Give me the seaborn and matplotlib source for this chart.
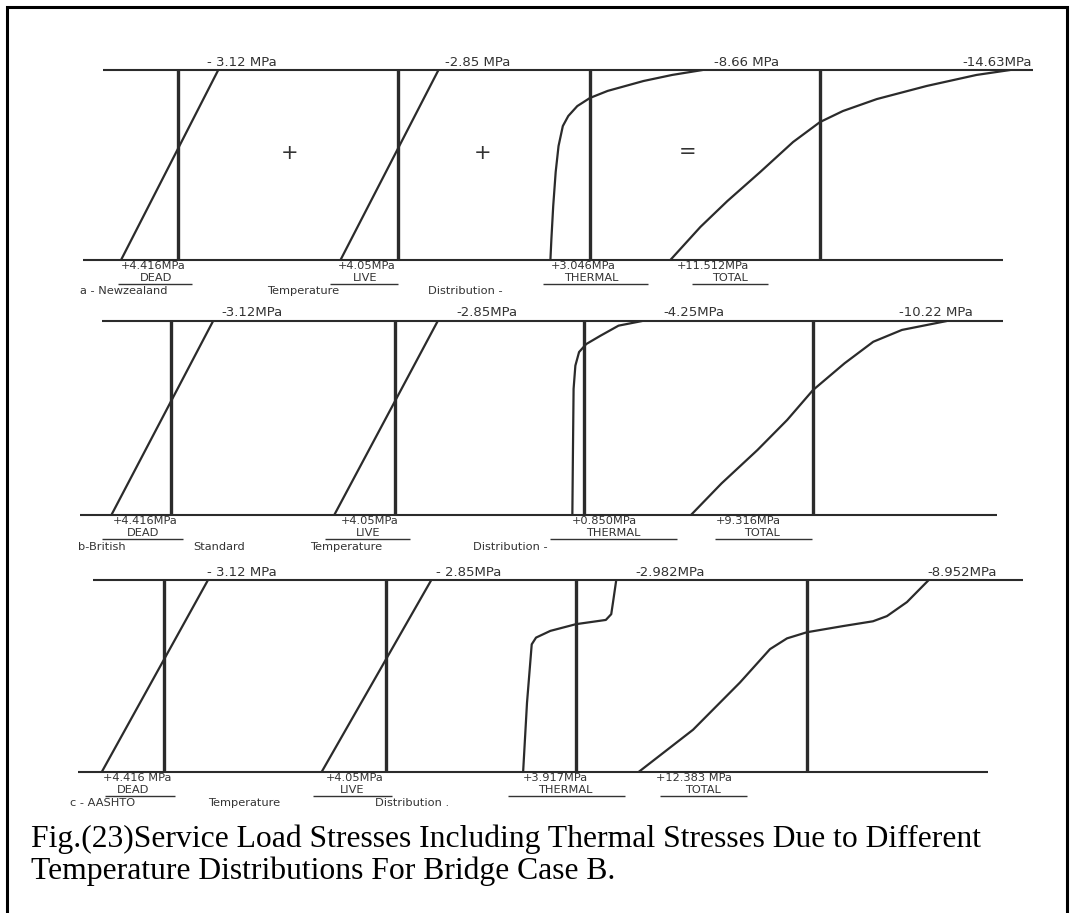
import matplotlib
matplotlib.use('Agg')
import matplotlib.pyplot as plt
import seaborn as sns

sns.set_theme(style='white')
plt.rcParams['font.family'] = ['DejaVu Sans']

W, H = 1071, 913
INK = '#2b2b2b'

# ---------------- data (stress in MPa, + = tension, depth 0 = top fibre, 1 = bottom) ----------------
components = ['DEAD', 'LIVE', 'THERMAL', 'TOTAL']

dead_depth = [1.0, 0.0]
dead_stress = [4.416, -3.12]
live_depth = [1.0, 0.0]
live_stress = [4.05, -2.85]

# a - Newzealand
nz_thermal_depth = [1.0, 0.89, 0.716, 0.537, 0.40, 0.295, 0.242, 0.19, 0.147, 0.11, 0.058, 0.026, 0.0]
nz_thermal_stress = [3.046, 2.97, 2.83, 2.64, 2.42, 2.09, 1.67, 0.98, 0.0, -1.36, -4.11, -6.32, -8.66]
nz_total_depth = [1.0, 0.826, 0.69, 0.537, 0.379, 0.274, 0.216, 0.153, 0.084, 0.026, 0.0]
nz_total_stress = [11.512, 9.20, 7.13, 4.60, 2.07, 0.0, -1.76, -4.37, -8.21, -12.04, -14.63]

# b - British Standard
bs_thermal_depth = [1.0, 0.695, 0.35, 0.23, 0.16, 0.119, 0.076, 0.024, 0.0]
bs_thermal_stress = [0.85, 0.81, 0.76, 0.63, 0.36, -0.16, -1.20, -2.52, -4.25]
bs_total_depth = [1.0, 0.837, 0.665, 0.51, 0.356, 0.218, 0.107, 0.046, 0.0]
bs_total_stress = [9.316, 6.98, 4.24, 1.97, 0.0, -2.41, -4.60, -6.79, -10.22]

# c - AASHTO
aa_thermal_depth = [1.0, 0.64, 0.335, 0.30, 0.265, 0.23, 0.208, 0.178, 0.117, 0.0]
aa_thermal_stress = [3.917, 3.63, 3.28, 2.96, 1.90, 0.0, -2.21, -2.61, -2.74, -2.982]
aa_total_depth = [1.0, 0.78, 0.534, 0.36, 0.304, 0.272, 0.24, 0.215, 0.188, 0.115, 0.0]
aa_total_stress = [12.383, 8.38, 4.93, 2.72, 1.47, 0.0, -2.65, -4.85, -5.88, -7.35, -8.952]

top_labels = [
    ['- 3.12 MPa', '-2.85 MPa', '-8.66 MPa', '-14.63MPa'],
    ['-3.12MPa', '-2.85MPa', '-4.25MPa', '-10.22 MPa'],
    ['- 3.12 MPa', '- 2.85MPa', '-2.982MPa', '-8.952MPa'],
]
bottom_labels = [
    ['+4.416MPa', '+4.05MPa', '+3.046MPa', '+11.512MPa'],
    ['+4.416MPa', '+4.05MPa', '+0.850MPa', '+9.316MPa'],
    ['+4.416 MPa', '+4.05MPa', '+3.917MPa', '+12.383 MPa'],
]
case_words = [
    ['a - Newzealand', 'Temperature', 'Distribution -'],
    ['b-British', 'Standard', 'Temperature', 'Distribution -'],
    ['c - AASHTO', 'Temperature', 'Distribution .'],
]
caption = ['Fig.(23)Service Load Stresses Including Thermal Stresses Due to Different',
           'Temperature Distributions For Bridge Case B.']

profiles = [
    [(dead_depth, dead_stress), (live_depth, live_stress),
     (nz_thermal_depth, nz_thermal_stress), (nz_total_depth, nz_total_stress)],
    [(dead_depth, dead_stress), (live_depth, live_stress),
     (bs_thermal_depth, bs_thermal_stress), (bs_total_depth, bs_total_stress)],
    [(dead_depth, dead_stress), (live_depth, live_stress),
     (aa_thermal_depth, aa_thermal_stress), (aa_total_depth, aa_total_stress)],
]

# ---------------- layout (pixels) ----------------
rows = [
    dict(top=70, bot=260, top_line=(103, 1033), bot_line=(83, 1003),
         zero=[178, 398, 590, 820], scale=[12.9, 14.2, 13.0, 13.0],
         top_x=[242, 478, 747, 997],
         val_x=[153, 367, 583, 713],
         name_x=[156, 365, 591, 730],
         ul=[(118, 192), (330, 398), (543, 648), (692, 768)],
         word_x=[80, 267, 428]),
    dict(top=321, bot=515, top_line=(102, 1003), bot_line=(80, 997),
         zero=[171, 395, 584, 813], scale=[13.5, 15.0, 13.7, 13.1],
         top_x=[252, 487, 694, 936],
         val_x=[145, 370, 604, 748],
         name_x=[143, 368, 613, 762],
         ul=[(102, 183), (325, 410), (550, 677), (715, 812)],
         word_x=[78, 193, 310, 473]),
    dict(top=580, bot=772, top_line=(93, 1023), bot_line=(78, 988),
         zero=[164, 386, 576, 807], scale=[14.1, 15.9, 13.5, 13.6],
         top_x=[242, 469, 670, 962],
         val_x=[137, 355, 555, 694],
         name_x=[133, 352, 565, 703],
         ul=[(105, 175), (313, 392), (508, 625), (660, 747)],
         word_x=[70, 208, 375]),
]

fig = plt.figure(figsize=(W / 100, H / 100), dpi=100)
fig.patch.set_facecolor('white')

# background axes in pixel units for frame, base lines and lettering
bg = fig.add_axes([0, 0, 1, 1])
bg.set_xlim(0, W)
bg.set_ylim(H, 0)
bg.axis('off')

# frame
bg.plot([7, 7, 1067, 1067], [H, 7, 7, H], color='black', lw=2.2, solid_joinstyle='miter')

TXT = '#333333'
lab_kw = dict(fontsize=8.2, color=TXT, ha='center', va='center')
half = 300

for r, row in enumerate(rows):
    bg.hlines(row['top'], *row['top_line'], color=INK, lw=1.5)
    bg.hlines(row['bot'], *row['bot_line'], color=INK, lw=1.5)
    b = row['bot']

    for i, comp in enumerate(components):
        x0, k = row['zero'][i], row['scale'][i]
        ax = fig.add_axes([(x0 - half) / W, 1 - b / H,
                           2 * half / W, (b - row['top']) / H])
        ax.set_xlim(half / k, -half / k)
        ax.set_ylim(1, 0)
        ax.axis('off')
        ax.patch.set_alpha(0)
        ax.axvline(0, color=INK, lw=2.4)
        depth, stress = profiles[r][i]
        sns.lineplot(x=stress, y=depth, sort=False, estimator=None, ax=ax,
                     color=INK, lw=1.6, legend=False)

        bg.text(row['top_x'][i], row['top'] - 8, top_labels[r][i], fontsize=9.5,
                color=TXT, ha='center', va='center')
        bg.text(row['val_x'][i], b + 6, bottom_labels[r][i], **lab_kw)
        bg.text(row['name_x'][i], b + 18, comp, **lab_kw)
        bg.hlines(b + 24.5, *row['ul'][i], color=TXT, lw=1.0)

    for x, w in zip(row['word_x'], case_words[r]):
        bg.text(x, b + 31.5, w, fontsize=8.2, color=TXT, ha='left', va='center')

# operators between the diagrams of case a
bg.text(290, 153, '+', fontsize=15, color=TXT, ha='center', va='center')
bg.text(483, 153, '+', fontsize=15, color=TXT, ha='center', va='center')
bg.text(688, 152, '=', fontsize=15, color=TXT, ha='center', va='center')

# caption
for j, line in enumerate(caption):
    bg.text(31, 847 + 32 * j, line, fontsize=22.8, family=['Liberation Serif'],
            color='black', ha='left', va='baseline')

fig.savefig('out.png', dpi=100, facecolor='white')
